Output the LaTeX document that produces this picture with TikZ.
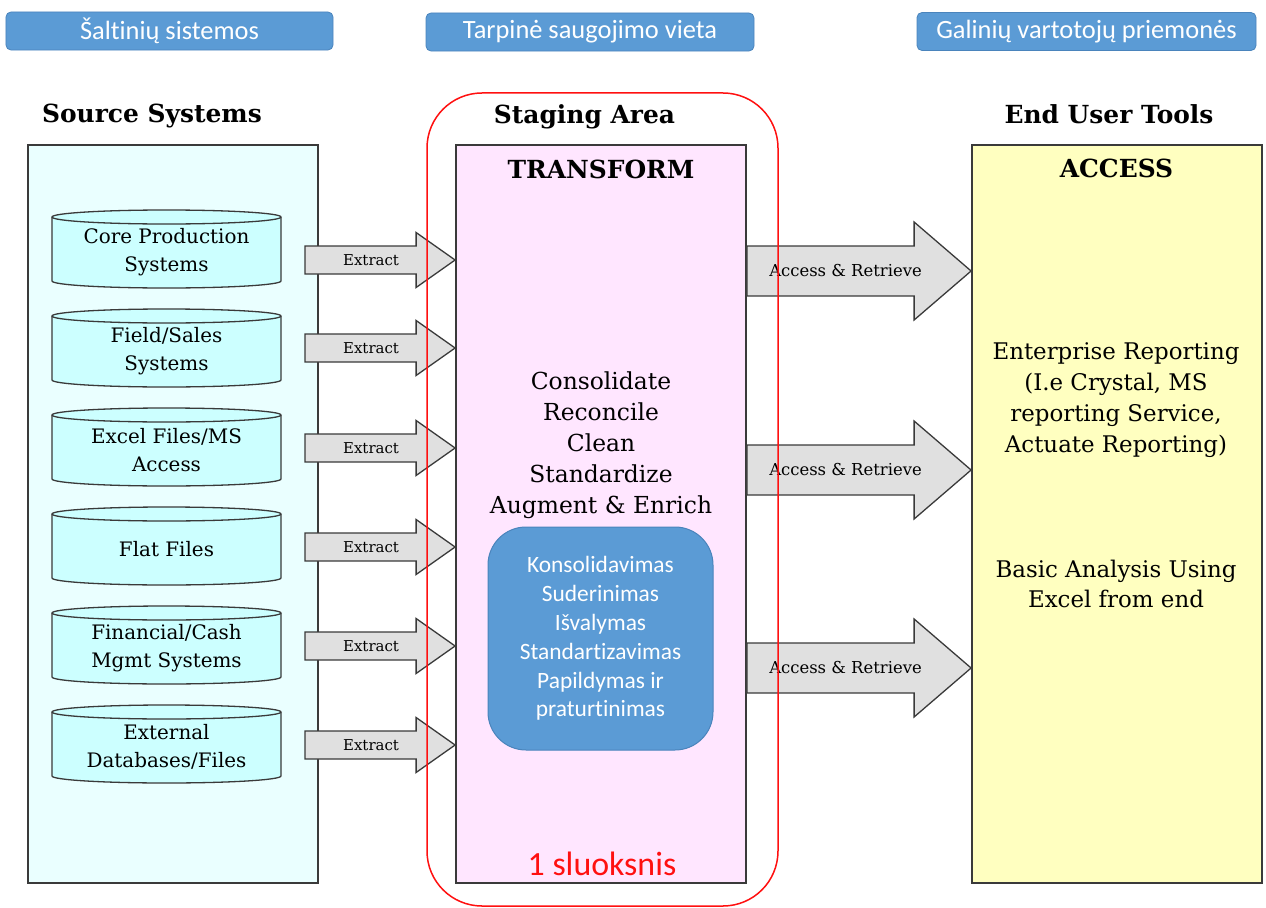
\documentclass[tikz,border=0pt]{standalone}
\usepackage{fontspec}
\setmainfont{DejaVu Serif}
\newfontfamily\calfont[Ligatures=NoCommon]{Carlito}
\usetikzlibrary{calc}

\definecolor{srcbg}{HTML}{EAFFFF}
\definecolor{cylbg}{HTML}{CCFFFF}
\definecolor{stgbg}{HTML}{FFE6FF}
\definecolor{accbg}{HTML}{FFFFC0}
\definecolor{arrowbg}{HTML}{E0E0E0}
\definecolor{officeblue}{HTML}{5B9BD5}
\definecolor{officeblueedge}{HTML}{4A84BC}
\definecolor{edge}{HTML}{3A3A3A}
\definecolor{layerred}{HTML}{FF1010}

\tikzset{
  tagbox/.style={draw=officeblueedge, line width=0.8bp, fill=officeblue, rounded corners=5bp,
    minimum height=38bp, text=white, font=\calfont\fontsize{26.5}{30}\selectfont, inner sep=0pt},
  heading/.style={anchor=base, font=\bfseries\fontsize{25}{28}\selectfont},
  panel/.style={draw=edge, line width=1.8bp, minimum width=290bp, minimum height=738bp, inner sep=0pt},
  cylbody/.style={draw=edge, line width=1.3bp, fill=cylbg},
  cyltext/.style={align=center, font=\fontsize{20}{28}\selectfont, inner sep=0pt},
  arrowbox/.style={draw=edge, line width=1.3bp, fill=arrowbg, line join=miter},
  arrowlabel/.style={font=\fontsize{15}{18}\selectfont, inner sep=0pt},
  bodytext/.style={align=center, font=\fontsize{23}{31}\selectfont, inner sep=0pt},
}

% block arrow: tail, tip, half shaft width, half head width, head length, label, label size
\newcommand{\blockarrow}[7]{%
  \draw[arrowbox] let \p1=(#1), \p2=(#2) in
    (\x1,\y1+#3) -- (\x2-#5,\y1+#3) -- (\x2-#5,\y1+#4) -- (\x2,\y1)
    -- (\x2-#5,\y1-#4) -- (\x2-#5,\y1-#3) -- (\x1,\y1-#3) -- cycle;
  \node[arrowlabel, font=\fontsize{#7}{18}\selectfont] (#1-lbl) at ($(#1)!0.44!(#2)$) {#6};
}

\begin{document}
\begin{tikzpicture}[x=1bp, y=1bp]
\useasboundingbox (0,0) rectangle (1266,-908);

% caption tags
\node[tagbox, minimum width=327bp] (tag1) at (169.5,-31) {Šaltinių sistemos};
\node[tagbox, minimum width=328bp] (tag2) at (590,-32) {Tarpinė saugojimo vieta};
\node[tagbox, minimum width=339bp] (tag3) at (1086.5,-31.5) {Galinių vartotojų priemonės};

% column headings
\node[heading] (h1) at (152,-122) {Source Systems};
\node[heading] (h2) at (584.5,-123) {Staging Area};
\node[heading] (h3) at (1109,-123) {End User Tools};

% three panels
\node[panel, fill=srcbg] (src) at (173,-514) {};
\node[panel, fill=stgbg] (stg) at (601,-514) {};
\node[panel, fill=accbg] (acc) at (1117,-514) {};

\node[anchor=base, font=\bfseries\fontsize{25}{28}\selectfont] (tr) at (601,-178) {TRANSFORM};
\node[anchor=base, font=\bfseries\fontsize{25}{28}\selectfont] (ac) at (1116.5,-177) {ACCESS};

% staging operations
\node[bodytext, font=\fontsize{23.5}{31}\selectfont] (ops) at (601,-445) {Consolidate\\Reconcile\\Clean\\Standardize\\Augment \& Enrich};
\node[fill=officeblue, draw=officeblueedge, line width=1bp, rounded corners=38bp,
      minimum width=225bp, minimum height=223bp, inner sep=0pt] (lt) at (600.5,-638.5) {};
\node[align=center, text=white, font=\calfont\fontsize{23.5}{29}\selectfont, inner sep=0pt] (lttxt) at (600.5,-638.5)
  {Konsolidavimas\\Suderinimas\\Išvalymas\\Standartizavimas\\Papildymas ir\\praturtinimas};
\node[text=layerred, font=\calfont\fontsize{34}{40}\selectfont, inner sep=0pt] (sl) at (602,-864) {1 sluoksnis};

% end user tools text
\node[bodytext] (rep) at (1116,-400) {Enterprise Reporting\\(I.e Crystal, MS\\reporting Service,\\Actuate Reporting)};
\node[bodytext, font=\fontsize{23}{30}\selectfont] (bas) at (1116,-584) {Basic Analysis Using\\Excel from end};

% source databases and extract arrows
\foreach \i/\t/\ay/\txt in {
  1/210/260/{Core Production\\Systems},
  2/309/348/{Field/Sales\\Systems},
  3/408/448/{Excel Files/MS\\Access},
  4/507/547/{Flat Files},
  5/606/646/{Financial/Cash\\Mgmt Systems},
  6/705/745/{External\\Databases/Files}} {
  \path[cylbody] (52,-\t-7) -- (52,-\t-71)
     arc[start angle=180, end angle=360, x radius=114.5, y radius=7]
     -- (281,-\t-7)
     arc[start angle=0, end angle=180, x radius=114.5, y radius=7] -- cycle;
  \draw[edge, line width=1.3bp] (52,-\t-7)
     arc[start angle=180, end angle=360, x radius=114.5, y radius=7];
  \node[cyltext] (cyl\i) at (166.5,-\t-42) {\txt};
  \coordinate (xt\i) at (305,-\ay);
  \coordinate (xh\i) at (stg.west |- xt\i);
  \blockarrow{xt\i}{xh\i}{14bp}{27.5bp}{39bp}{Extract}{15}
}

% access arrows
\foreach \i/\ay in {1/271, 2/470, 3/668} {
  \coordinate (at\i) at (stg.east |- 0,-\ay);
  \coordinate (ah\i) at (acc.west |- at\i);
  \blockarrow{at\i}{ah\i}{25bp}{49bp}{57bp}{Access \& Retrieve}{16.5}
}

% first layer outline
\node[draw=layerred, line width=1.5bp, rounded corners=55bp, minimum width=351bp,
      minimum height=813bp, inner sep=0pt] (layer) at (602.5,-499.5) {};
\end{tikzpicture}
\end{document}
